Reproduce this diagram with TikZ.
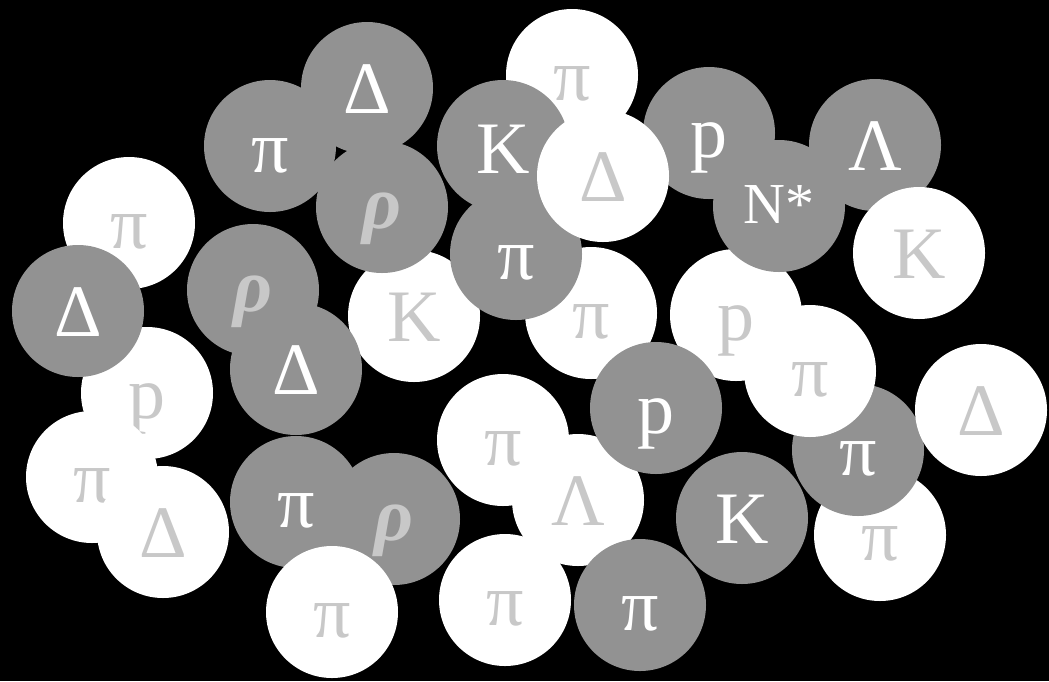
\documentclass[tikz,border=0pt]{standalone}
\usepackage{fontspec}
\setmainfont{Liberation Serif}
\definecolor{ballgray}{RGB}{146,146,146}
\definecolor{lightink}{RGB}{200,200,200}
\tikzset{
  ballg/.style={circle, fill=ballgray, minimum size=132pt, inner sep=0pt},
  ballw/.style={circle, fill=white, minimum size=132pt, inner sep=0pt},
  inkg/.style={text=white, inner sep=0pt, anchor=base, font=\fontsize{74}{80}\selectfont},
  inkw/.style={text=lightink, inner sep=0pt, anchor=base, font=\fontsize{74}{80}\selectfont},
  inkrho/.style={text=lightink, inner sep=0pt, anchor=base, font=\fontsize{76}{80}\selectfont\bfseries\itshape},
  inkn/.style={text=white, inner sep=0pt, anchor=base, font=\fontsize{58}{60}\selectfont},
}
% #1 name, #2 x, #3 y, #4 ball style, #5 text style, #6 baseline drop, #7 text
\newcommand\pball[7]{%
  \node[#4] (#1) at (#2,#3) {};
  \node[#5] (#1t) at ([yshift=-#6pt]#1.center) {#7};
}
\begin{document}
\begin{tikzpicture}[x=1pt,y=-1pt]
\fill[black] (0,0) rectangle (1049,681);
\useasboundingbox (0,0) rectangle (1049,681);
\pball{a1}{572}{75}{ballw}{inkw}{25}{π}
\pball{a2}{367}{88}{ballg}{inkg}{25}{Δ}
\pball{a3}{270}{146}{ballg}{inkg}{26}{π}
\pball{a4}{414}{316}{ballw}{inkw}{25}{K}
\pball{a5}{382}{207}{ballg}{inkrho}{21}{ρ}
\pball{a6}{591}{313}{ballw}{inkw}{25}{π}
\pball{a7}{516}{254}{ballg}{inkg}{25}{π}
\pball{a8}{503}{146}{ballg}{inkg}{27}{K}
\pball{a9}{709}{133}{ballg}{inkg}{24}{p}
\pball{a10}{603}{176}{ballw}{inkw}{25}{Δ}
\pball{a11}{736}{315}{ballw}{inkw}{25}{p}
\pball{a12}{779}{206}{ballg}{inkn}{17}{N*}
\pball{a13}{875}{145}{ballg}{inkg}{25}{Λ}
\pball{a14}{919}{253}{ballw}{inkw}{25}{K}
\pball{a15}{129}{223}{ballw}{inkw}{25}{π}
\pball{a16}{147}{393}{ballw}{inkw}{25}{p}
\pball{a17}{78}{311}{ballg}{inkg}{25}{Δ}
\pball{a18}{253}{290}{ballg}{inkrho}{21}{ρ}
\pball{a19}{296}{369}{ballg}{inkg}{25}{Δ}
\pball{a20}{92}{477}{ballw}{inkw}{25}{π}
\pball{a21}{163}{532}{ballw}{inkw}{25}{Δ}
\pball{a22}{296}{502}{ballg}{inkg}{25}{π}
\pball{a23}{394}{519}{ballg}{inkrho}{21}{ρ}
\pball{a24}{332}{612}{ballw}{inkw}{25}{π}
\pball{a25}{503}{440}{ballw}{inkw}{25}{π}
\pball{a26}{578}{500}{ballw}{inkw}{25}{Λ}
\pball{a27}{505}{600}{ballw}{inkw}{25}{π}
\pball{a28}{656}{408}{ballg}{inkg}{25}{p}
\pball{a29}{742}{518}{ballg}{inkg}{25}{K}
\pball{a30}{640}{605}{ballg}{inkg}{25}{π}
\pball{a31}{880}{535}{ballw}{inkw}{25}{π}
\pball{a32}{858}{450}{ballg}{inkg}{25}{π}
\pball{a33}{810}{371}{ballw}{inkw}{25}{π}
\pball{a34}{981}{410}{ballw}{inkw}{25}{Δ}
\end{tikzpicture}
\end{document}
